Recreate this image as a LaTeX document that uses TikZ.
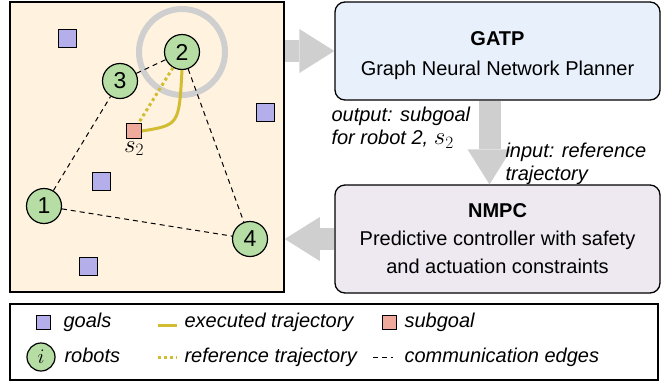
\documentclass[tikz,border=0pt]{standalone}
\usepackage[no-math]{fontspec}
\setmainfont{Liberation Sans}
\usetikzlibrary{arrows.meta}

\definecolor{mapbg}{HTML}{FFF3E0}
\definecolor{goalfill}{HTML}{B4AFEB}
\definecolor{robotfill}{HTML}{B5DDA4}
\definecolor{subgoalfill}{HTML}{F0AA9B}
\definecolor{trajcol}{HTML}{D2BC32}
\definecolor{flowgray}{HTML}{CFCFCF}
\definecolor{gatpfill}{HTML}{E8F0FC}
\definecolor{nmpcfill}{HTML}{EEE8F0}

\tikzset{
  robot/.style={circle, draw, fill=robotfill, line width=1.2pt, minimum size=35pt, inner sep=0pt, font=\fontsize{23}{23}\selectfont},
  goal/.style={draw, fill=goalfill, minimum size=18pt, inner sep=0pt, line width=1pt},
  subgoal/.style={draw, fill=subgoalfill, minimum size=15pt, inner sep=0pt, line width=1pt},
  edge/.style={dashed, dash pattern=on 5pt off 4pt, line width=1pt},
  executed/.style={trajcol, line width=3pt},
  reference/.style={trajcol, line width=3pt, dash pattern=on 3pt off 3pt},
  block/.style={draw, rounded corners=10pt, line width=1.3pt, minimum width=325pt},
  blocktext/.style={align=center, font=\fontsize{20}{23}\selectfont},
  flow/.style={flowgray, line width=22pt, -{Triangle[width=44pt, length=35pt, line width=0pt]}},
  note/.style={align=left, font=\itshape\fontsize{20}{23}\selectfont},
  legtext/.style={anchor=west, text height=14pt, text depth=4pt, font=\itshape\fontsize{20}{23}\selectfont}
}

\begin{document}
\begin{tikzpicture}[x=1pt, y=-1pt]
  \useasboundingbox (0,0) rectangle (666,381);

  % map of the robots
  \node[draw, fill=mapbg, line width=1.5pt, minimum width=274pt, minimum height=290pt, inner sep=0pt] (map) at (147,147) {};
  \node[goal] (g1) at (67,38) {};
  \node[goal] (g2) at (265,112) {};
  \node[goal] (g3) at (101,181) {};
  \node[goal] (g4) at (88,266) {};
  \coordinate (r2c) at (182,52);
  \draw[flowgray, line width=6pt] (r2c) circle (43pt);
  \node[robot] (r1) at (44,206) {1};
  \node[robot] (r2) at (r2c) {2};
  \node[robot] (r3) at (120,81) {3};
  \node[robot] (r4) at (250,239) {4};
  \draw[edge] (r1) -- (r3);
  \draw[edge] (r3) -- (r2);
  \draw[edge] (r2) -- (r4);
  \draw[edge] (r1) -- (r4);
  \node[subgoal] (s2) at (134,131) {};
  \node[below=-1pt, font=\fontsize{25}{25}\selectfont] (s2lbl) at (s2.south) {$s_2$};
  \draw[reference] (r2.240) -- (s2.60);
  \draw[executed] (r2.south) .. controls (179,125) .. (s2.east);

  % planner and controller
  \node[block, fill=gatpfill, minimum height=98pt] (gatp) at (497.5,51) {};
  \node[blocktext] (gatptext) at ([yshift=-5pt]gatp.center) {\textbf{GATP}\\[7pt]Graph Neural Network Planner};
  \node[block, fill=nmpcfill, minimum height=108pt] (nmpc) at (497.5,239) {};
  \node[blocktext] (nmpctext) at (nmpc.center) {\textbf{NMPC}\\[5pt]Predictive controller with safety\\[5pt]and actuation constraints};
  \draw[flow] (map.east |- gatp.west) -- (gatp.west);
  \draw[flow] ([xshift=-8pt]gatp.south) -- ([xshift=-8pt]nmpc.north);
  \draw[flow] (nmpc.west) -- (map.east |- nmpc.west);
  \node[note, anchor=west] (outlbl) at (328,128) {output: subgoal\\for robot 2, {\fontsize{24}{23}\selectfont$s_2$}};
  \node[note, anchor=west] (inlbl) at (502,164) {input: reference\\trajectory};

  % legend
  \node[draw, line width=1.5pt, minimum width=648pt, minimum height=76pt, inner sep=0pt] (legend) at (334,342) {};
  \node[goal, minimum size=14pt] (lgoal) at (43,322) {};
  \node[legtext] at (60,322) {goals};
  \node[robot, minimum size=28pt, font=\fontsize{22}{22}\selectfont] (lrobot) at (41,357) {$i$};
  \node[legtext] at (61,357) {robots};
  \draw[executed] (158,325) -- (177,325);
  \node[legtext] at (181,322) {executed trajectory};
  \draw[reference] (158,357) -- (177,357);
  \node[legtext] at (181,357) {reference trajectory};
  \node[subgoal, minimum size=14pt] (lsub) at (389,322) {};
  \node[legtext] at (401,322) {subgoal};
  \draw[edge] (373,357) -- (393,357);
  \node[legtext] at (401,357) {communication edges};
\end{tikzpicture}
\end{document}
